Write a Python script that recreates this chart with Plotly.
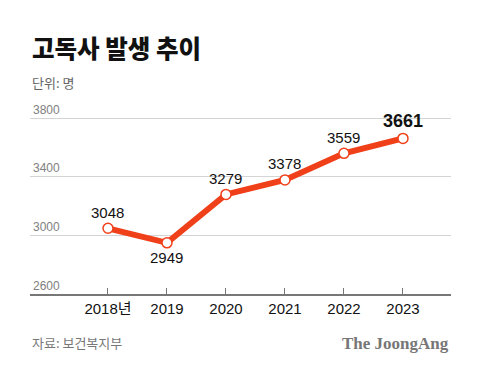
import plotly.graph_objects as go

years = ["2018년", "2019", "2020", "2021", "2022", "2023"]
values = [3048, 2949, 3279, 3378, 3559, 3661]
y_ticks = [2600, 3000, 3400, 3800]
label_pos = ["above", "below", "above", "above", "above", "above"]

LINE = "#F0401A"
FONT = "Noto Sans CJK KR"
NUM = "Liberation Sans, Arial, Noto Sans CJK KR"

xs = list(range(len(years)))

fig = go.Figure()
fig.add_trace(go.Scatter(
    x=xs, y=values, mode="lines+markers",
    line=dict(color=LINE, width=6),
    marker=dict(size=10, color="white", line=dict(color=LINE, width=1.5)),
    cliponaxis=False, hoverinfo="skip",
))

for i, (v, p) in enumerate(zip(values, label_pos)):
    last = i == len(values) - 1
    fig.add_annotation(
        x=i, y=v, text=str(v), showarrow=False,
        yshift=(17 if last else 16) if p == "above" else -15,
        font=dict(family=NUM, size=18 if last else 15, color="#111",
                  weight=700 if last else 400),
    )

TOP = 95
BOT = 294
PX_PER_UNIT = 176 / 1200
y_top = 3800 + (118 - TOP) / PX_PER_UNIT

fig.add_annotation(xref="paper", yref="paper", x=0, y=1, xanchor="left", yanchor="middle",
                   yshift=TOP - 47, text="고독사 발생 추이", showarrow=False,
                   font=dict(family=FONT, size=24.5, color="#111", weight=900))
fig.add_annotation(xref="paper", yref="paper", x=0, y=1, xanchor="left", yanchor="middle",
                   yshift=TOP - 82, text="단위: 명", showarrow=False,
                   font=dict(family=FONT, size=13, color="#666"))
fig.add_annotation(xref="paper", yref="paper", x=0, y=0, xanchor="left", yanchor="middle",
                   yshift=-(342 - BOT), text="자료: 보건복지부", showarrow=False,
                   font=dict(family=FONT, size=13, color="#777"))
fig.add_annotation(xref="paper", yref="paper", x=1, y=0, xanchor="right", yanchor="middle",
                   yshift=-(343 - BOT), text="The JoongAng", showarrow=False,
                   font=dict(family="Liberation Serif", size=17, color="#777", weight=700))

fig.update_layout(
    width=480, height=371,
    margin=dict(l=30, r=29, t=TOP, b=371 - BOT, pad=0),
    paper_bgcolor="white", plot_bgcolor="white",
    showlegend=False,
    xaxis=dict(
        range=[-1.322, 5.814], tickvals=xs, ticktext=years,
        showgrid=False, zeroline=False,
        showline=True, linecolor="#777", linewidth=2,
        ticks="inside", ticklen=6, tickcolor="#777", tickwidth=1,
        tickfont=dict(family=NUM, size=15, color="#111"),
        fixedrange=True,
    ),
    yaxis=dict(
        range=[2600, y_top], tickvals=y_ticks,
        showgrid=True, gridcolor="#d4d4d4", gridwidth=1,
        zeroline=False, showline=False, ticks="",
        ticklabelposition="inside top",
        tickfont=dict(family=NUM, size=12, color="#808080"),
        fixedrange=True,
    ),
)

fig.write_html("out.html", config={"displayModeBar": False},
               post_script="document.body.style.margin='0';")
